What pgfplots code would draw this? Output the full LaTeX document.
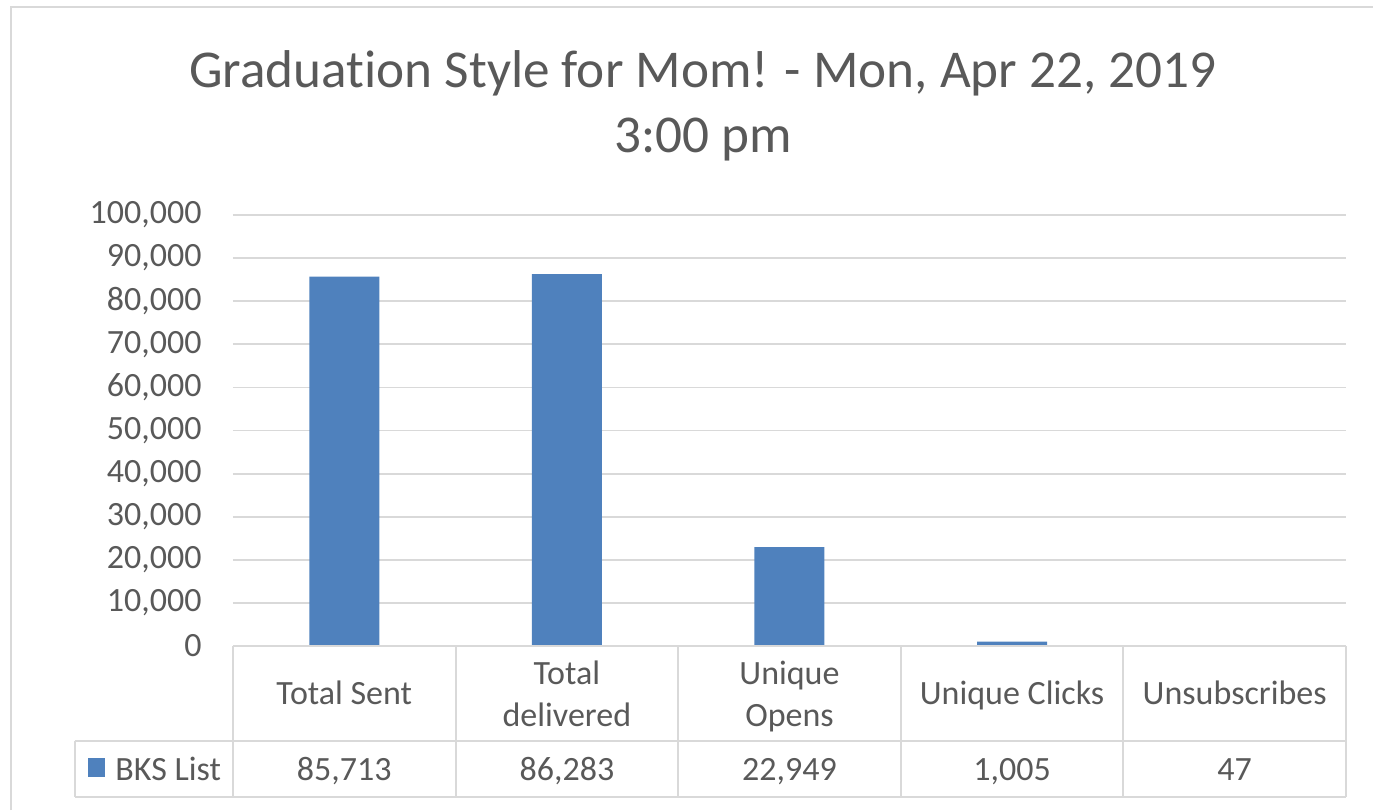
\documentclass[border=0pt]{standalone}
\usepackage{pgfplots}
\pgfplotsset{compat=1.18}
\usepackage{fontspec}
\setmainfont{Carlito}[Ligatures=NoCommon]
\definecolor{barblue}{HTML}{4F81BD}
\definecolor{txt}{HTML}{595959}
\definecolor{gridc}{HTML}{D9D9D9}
\tikzset{tabcell/.style={anchor=base, inner sep=0pt, text=txt, font=\fontsize{17}{21}\selectfont}}
\begin{document}
\begin{tikzpicture}
\useasboundingbox (-116.5pt,-82pt) rectangle (570pt,323pt);
\begin{axis}[
  at={(0,0)}, anchor=south west,
  scale only axis, width=556.5pt, height=215.5pt,
  xmin=-0.5, xmax=4.5, ymin=0, ymax=100000,
  clip=false,
  xtick=data, xticklabels={},
  ytick={0,10000,20000,30000,40000,50000,60000,70000,80000,90000,100000},
  yticklabels={0,{10,000},{20,000},{30,000},{40,000},{50,000},{60,000},{70,000},{80,000},{90,000},{100,000}},
  scaled y ticks=false,
  yticklabel style={font=\fontsize{17}{20}\selectfont, text=txt, inner sep=0pt, xshift=-15.5pt},
  major tick length=0pt,
  axis line style={draw=none},
  ymajorgrids, grid style={gridc, line width=0.9pt},
  ybar, bar width=35pt,
]
\addplot[fill=barblue, draw=none] coordinates {(0,85713) (1,86283) (2,22949) (3,1005) (4,47)};
\node[tabcell] at (axis cs:0,0) [yshift=-29pt] {Total Sent};
\node[tabcell] at (axis cs:1,0) [yshift=-19pt] {Total};
\node[tabcell] at (axis cs:1,0) [yshift=-40pt] {delivered};
\node[tabcell] at (axis cs:2,0) [yshift=-19pt] {Unique};
\node[tabcell] at (axis cs:2,0) [yshift=-40pt] {Opens};
\node[tabcell] at (axis cs:3,0) [yshift=-29pt] {Unique Clicks};
\node[tabcell] at (axis cs:4,0) [yshift=-29pt] {Unsubscribes};
\node[tabcell] at (axis cs:0,0) [yshift=-67pt] {85,713};
\node[tabcell] at (axis cs:1,0) [yshift=-67pt] {86,283};
\node[tabcell] at (axis cs:2,0) [yshift=-67pt] {22,949};
\node[tabcell] at (axis cs:3,0) [yshift=-67pt] {1,005};
\node[tabcell] at (axis cs:4,0) [yshift=-67pt] {47};
\end{axis}
% table grid
\begin{scope}[draw=gridc, line width=1pt]
\draw (0,0) -- (556.5pt,0);
\draw (-79pt,-47.5pt) -- (556.5pt,-47.5pt);
\draw (-79pt,-75.5pt) -- (556.5pt,-75.5pt);
\foreach \x in {0,111.3,222.6,333.9,445.2,556.5}{\draw (\x pt,0) -- (\x pt,-75.5pt);}
\draw (-79pt,-47.5pt) -- (-79pt,-75.5pt);
\end{scope}
% legend key
\fill[barblue] (-72.5pt,-56pt) rectangle (-64pt,-65.5pt);
\node[anchor=base west, inner sep=0pt, text=txt, font=\fontsize{17}{21}\selectfont] at (-59pt,-67pt) {BKS List};
% outer border
\draw[gridc, line width=1.2pt] (-111pt,-82pt) -- (-111pt,319.5pt) -- (570pt,319.5pt);
% title
\node[anchor=base, text=txt, font=\fontsize{26.6}{32}\selectfont, inner sep=0pt] at (235pt,279pt) {Graduation Style for Mom! - Mon, Apr 22, 2019};
\node[anchor=base, text=txt, font=\fontsize{26.6}{32}\selectfont, inner sep=0pt] at (235pt,246.5pt) {3:00 pm};
\end{tikzpicture}
\end{document}
